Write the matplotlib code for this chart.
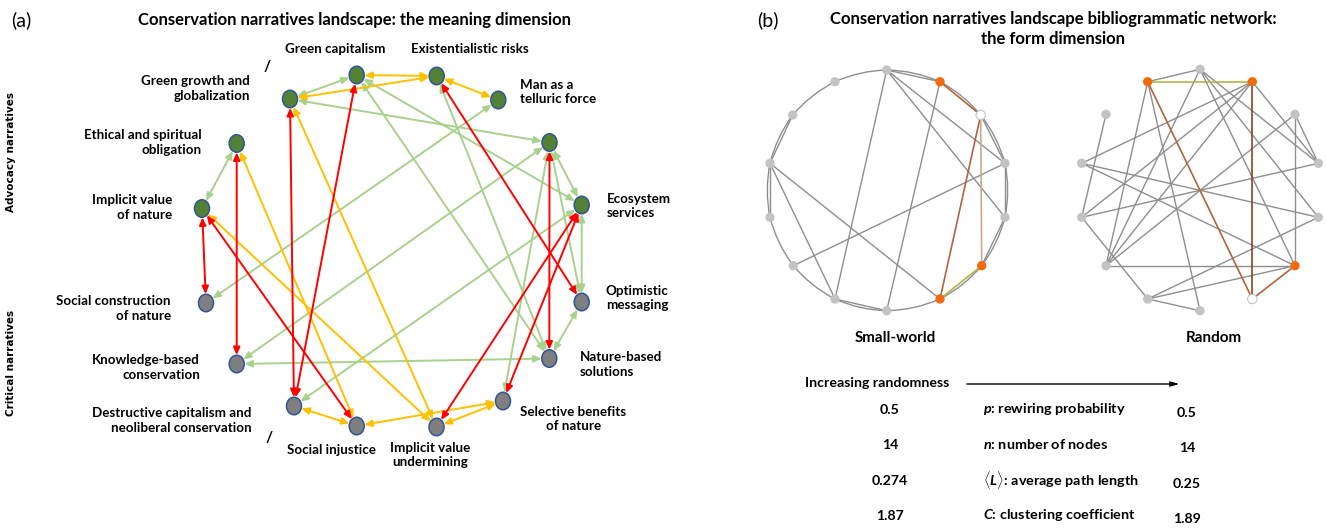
import matplotlib
matplotlib.use('Agg')
import matplotlib.pyplot as plt
from matplotlib.patches import Ellipse, FancyArrowPatch

plt.rcParams['font.family'] = ['Lato', 'DejaVu Sans']
plt.rcParams['mathtext.fontset'] = 'custom'
plt.rcParams['mathtext.it'] = 'Lato:italic:bold'
plt.rcParams['mathtext.rm'] = 'Lato:bold'

# ---- panel (a): meaning network (positions in pixels) ----
node_keys = ['GC', 'ER', 'MT', 'GG', 'ES', 'UR', 'EC', 'IV',
             'SC', 'OM', 'KB', 'NB', 'DC', 'SB', 'SI', 'IU']
node_x = [356.7, 436.7, 498.3, 290, 236.7, 549.5, 581.7, 202,
          206, 581.7, 236.7, 549.3, 294, 503, 356.7, 436.5]
node_y = [75, 76, 100, 99, 143.5, 142.5, 205, 208.5,
          303, 302, 364, 358.5, 406, 401, 426, 427]
node_group = ['advocacy'] * 8 + ['critical'] * 8

edges_yellow = [('GC', 'ER'), ('GG', 'ER'), ('ER', 'MT'), ('GG', 'IU'), ('ES', 'SI'),
                ('IV', 'IU'), ('DC', 'SI'), ('SI', 'SB'), ('IU', 'SB')]
edges_green = [('GC', 'GG'), ('GG', 'UR'), ('GC', 'EC'), ('GC', 'NB'), ('ER', 'NB'),
               ('MT', 'SC'), ('UR', 'KB'), ('UR', 'SB'), ('UR', 'EC'), ('UR', 'OM'),
               ('EC', 'OM'), ('EC', 'DC'), ('OM', 'NB'), ('KB', 'NB'), ('ES', 'IV')]
edges_red = [('GG', 'DC'), ('GC', 'DC'), ('ES', 'KB'), ('IV', 'SC'), ('IV', 'SI'),
             ('ER', 'OM'), ('UR', 'NB'), ('EC', 'IU'), ('EC', 'SB')]

label_text = ['Green capitalism', 'Existentialistic risks', 'Green growth and\nglobalization',
              'Man as a\ntelluric force', 'Ethical and spiritual\nobligation',
              'Implicit value\nof nature', 'Ecosystem\nservices', 'Social construction\nof nature',
              'Optimistic\nmessaging', 'Knowledge-based\nconservation', 'Nature-based\nsolutions',
              'Destructive capitalism and\nneoliberal conservation', 'Selective benefits\nof nature',
              'Social injustice', 'Implicit value\nundermining']
label_x = [335, 470, 250, 520, 202, 172, 607, 171, 606, 200, 580, 251.5, 573.5, 331, 430.6]
label_y = [49, 49, 88.5, 92, 142.5, 207.5, 206, 308.5, 298, 367.5, 364.5, 420.5, 419, 450, 455]
label_ha = ['center', 'center', 'right', 'left', 'right', 'right', 'left', 'right',
            'left', 'right', 'left', 'right', 'center', 'center', 'center']

# ---- panel (b): small-world and random networks ----
sw_x = [886.7, 940, 980.7, 1005, 1005, 981.7, 940, 886.7, 835, 793.3, 770, 770, 792.7, 835]
sw_y = [70, 81.7, 115, 163.3, 217.3, 265.7, 299, 310.7, 299, 265.7, 217.3, 163.3, 115, 81.7]
sw_color = ['grey', 'orange', 'white', 'grey', 'grey', 'orange', 'orange',
            'grey', 'grey', 'grey', 'grey', 'grey', 'grey', 'grey']
sw_chords = [(0, 1), (2, 3), (3, 4), (4, 5), (7, 8), (10, 11), (11, 12),
             (0, 8), (0, 3), (0, 4), (1, 7), (9, 3), (11, 6), (11, 8)]
sw_colored = [((1, 2), 'brown'), ((2, 6), 'brown'), ((2, 5), 'tan'), ((5, 6), 'olive')]

rnd_x = [1200, 1252.3, 1295, 1318.3, 1318.3, 1295, 1252.3, 1200, 1147.7, 1106, 1081.7, 1081.7, 1106, 1147.7]
rnd_y = [69.3, 81.7, 114.3, 163.3, 217.3, 265.7, 299, 310.7, 299, 265.7, 217.3, 163.3, 114.3, 81.7]
rnd_color = ['grey', 'orange', 'grey', 'grey', 'grey', 'orange', 'white',
             'grey', 'grey', 'grey', 'grey', 'grey', 'grey', 'orange']
rnd_edges = [(13, 0), (13, 9), (13, 7), (0, 9), (0, 3), (0, 5), (0, 4), (1, 3), (1, 11),
             (1, 10), (1, 9), (12, 10), (2, 5), (2, 3), (2, 9), (3, 10), (11, 4), (11, 5),
             (4, 8), (9, 5), (5, 8), (10, 8), (8, 7)]
rnd_colored = [((13, 1), 'olive'), ((13, 6), 'brown'), ((1, 6), 'darkbrown'), ((5, 6), 'brown')]

table_left = ['0.5', '14', '0.274', '1.87']
table_mid = [r'$\mathit{p}$: rewiring probability', r'$\mathit{n}$: number of nodes',
             r'$\langle \mathit{L} \rangle$: average path length', r'$\mathit{C}$: clustering coefficient']
table_right = ['0.5', '14', '0.25', '1.89']
table_y = [410, 445, 481, 516]

node_fill = {'advocacy': '#548235', 'critical': '#7f7f7f'}
edge_col = {'yellow': '#ffc000', 'green': '#a9d18e', 'red': '#ff0000'}
net_fill = {'grey': '#c3c3c3', 'orange': '#f26a10', 'white': '#ffffff'}
net_edge = {'brown': '#b0643a', 'tan': '#c9a990', 'olive': '#b3b347', 'darkbrown': '#8a4420'}

fig = plt.figure(figsize=(13.27, 5.3), dpi=100)
ax = fig.add_axes([0, 0, 1, 1])
ax.set_xlim(0, 1327)
ax.set_ylim(530, 0)
ax.axis('off')

# nodes of panel (a)
patches = {}
for k, x, y, g in zip(node_keys, node_x, node_y, node_group):
    e = Ellipse((x, y), 15, 17.5, fc=node_fill[g], ec='#2f5597', lw=1.1, zorder=3)
    ax.add_patch(e)
    patches[k] = (e, x, y)

for edges, c in [(edges_green, 'green'), (edges_yellow, 'yellow'), (edges_red, 'red')]:
    for a, b in edges:
        ea, xa, ya = patches[a]
        eb, xb, yb = patches[b]
        arr = FancyArrowPatch((xa, ya), (xb, yb), patchA=ea, patchB=eb,
                              shrinkA=0.5, shrinkB=0.5, mutation_scale=10,
                              arrowstyle='<|-|>,head_length=0.45,head_width=0.2',
                              color=edge_col[c], lw=1.4, zorder=2)
        ax.add_patch(arr)

for t, x, y, ha in zip(label_text, label_x, label_y, label_ha):
    ax.text(x, y, t, ha=ha, va='center', fontsize=9.6, fontweight='bold', linespacing=1.25)

ax.text(266.7, 67, '/', ha='center', va='center', fontsize=11, fontweight='bold')
ax.text(269, 438, '/', ha='center', va='center', fontsize=11, fontweight='bold')

ax.text(21, 20, '(a)', ha='center', va='center', fontsize=14)
ax.text(355, 20, 'Conservation narratives landscape: the meaning dimension',
        ha='center', va='center', fontsize=12, fontweight='bold')
ax.text(11, 152, 'Advocacy narratives', rotation=90, ha='center', va='center',
        fontsize=7.5, fontweight='bold', family='DejaVu Sans')
ax.text(11, 363, 'Critical narratives', rotation=90, ha='center', va='center',
        fontsize=7.5, fontweight='bold', family='DejaVu Sans')


# networks of panel (b)
def draw_net(xs, ys, colors, straight, colored, ring):
    n = len(xs)
    if ring:
        for i in range(n):
            j = (i + 1) % n
            ax.add_patch(FancyArrowPatch((xs[i], ys[i]), (xs[j], ys[j]), arrowstyle='-',
                                         connectionstyle='arc3,rad=-0.1', color='#8e8e8e',
                                         lw=1.0, shrinkA=0, shrinkB=0, zorder=2))
    for i, j in straight:
        ax.plot([xs[i], xs[j]], [ys[i], ys[j]], color='#8e8e8e', lw=1.0, zorder=2)
    for (i, j), c in colored:
        ax.plot([xs[i], xs[j]], [ys[i], ys[j]], color=net_edge[c], lw=1.2, zorder=2.5)
    ax.scatter(xs, ys, s=45, c=[net_fill[c] for c in colors],
               edgecolors=['#c3c3c3' if c == 'white' else 'none' for c in colors],
               linewidths=0.8, zorder=3)


draw_net(sw_x, sw_y, sw_color, sw_chords, sw_colored, True)
draw_net(rnd_x, rnd_y, rnd_color, rnd_edges, rnd_colored, False)

ax.text(768, 20, '(b)', ha='center', va='center', fontsize=14)
ax.text(1053, 29, 'Conservation narratives landscape bibliogrammatic network:\nthe form dimension',
        ha='center', va='center', fontsize=12, fontweight='bold', linespacing=1.3)
ax.text(895, 338, 'Small-world', ha='center', va='center', fontsize=11, fontweight='bold')
ax.text(1214, 338, 'Random', ha='center', va='center', fontsize=11, fontweight='bold')

ax.text(805, 383, 'Increasing randomness', ha='left', va='center', fontsize=10.2, fontweight='bold')
ax.annotate('', xy=(1182, 384), xytext=(964, 384),
            arrowprops=dict(arrowstyle='-|>,head_length=0.5,head_width=0.15', color='black', lw=1.0))

for i, y in enumerate(table_y):
    ax.text(890, y, table_left[i], ha='center', va='center', fontsize=10.2, fontweight='bold')
    ax.text(983, y - 1, table_mid[i], ha='left', va='center', fontsize=10.4, fontweight='bold')
    ax.text(1187, y + 3, table_right[i], ha='center', va='center', fontsize=10.2, fontweight='bold')

fig.savefig('out.png', dpi=100)
